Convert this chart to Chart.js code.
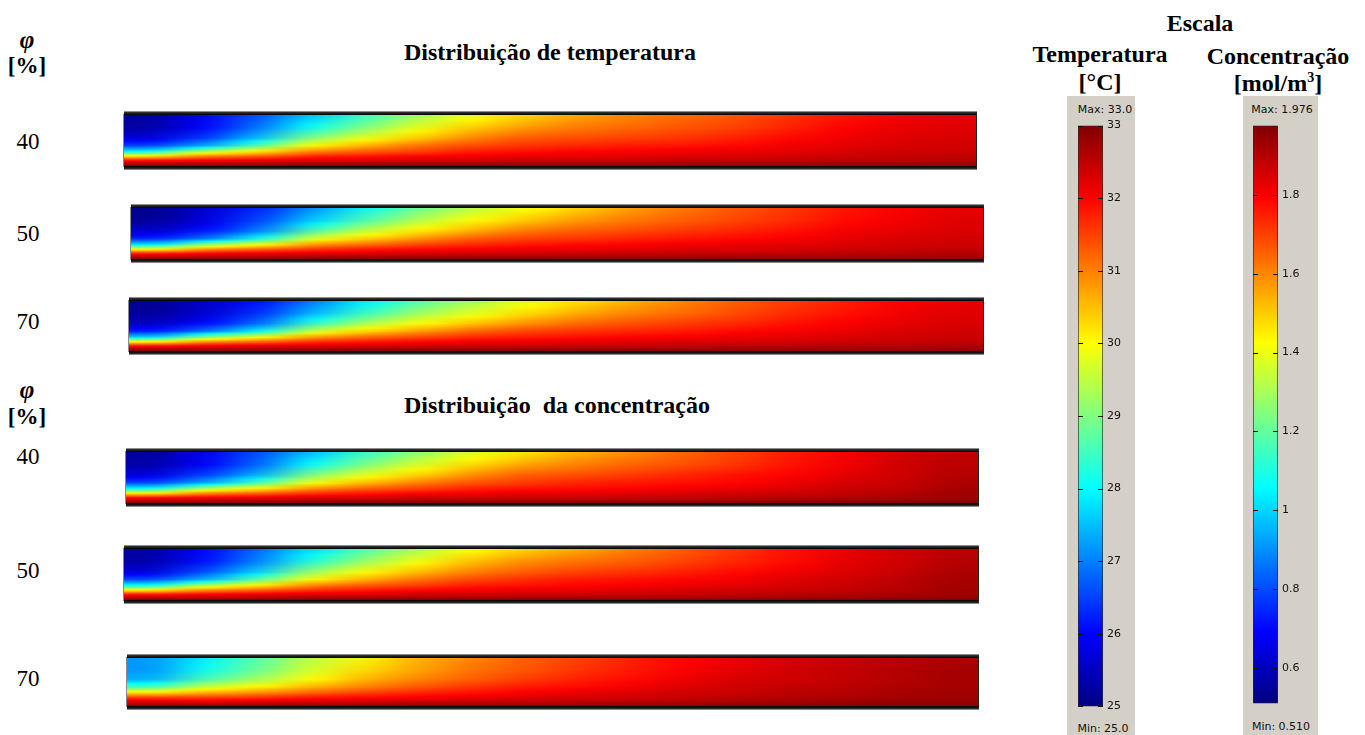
<!DOCTYPE html>
<html><head><meta charset="utf-8">
<script src="https://cdn.jsdelivr.net/npm/chart.js@4.4.1/dist/chart.umd.min.js"></script>
<style>
html,body{margin:0;padding:0;background:#fff;width:1365px;height:735px;overflow:hidden;}
body{position:relative;font-family:"Liberation Serif","Times New Roman",serif;color:#000;}
.t{position:absolute;white-space:pre;line-height:1;transform:translate(-50%,-50%);}
.b{font-weight:bold;font-size:24px;}
.n{font-size:23px;}
.phi{font-weight:bold;font-style:italic;font-size:25px;}
.pc{font-weight:bold;font-size:23px;}
.strip{position:absolute;}
.strip canvas{position:absolute;left:0;filter:url(#hb);}
.tb{position:absolute;left:0;right:-1px;height:4px;background:linear-gradient(#c0c0c0,#303030 35%,#000);}
.bb{position:absolute;left:0;right:-1px;height:4px;background:linear-gradient(#000,#202020 60%,#b8b8b8);}
.le{position:absolute;left:-1px;width:1px;background:#8a8a8a;}
.re{position:absolute;width:1px;background:#222;}
.panel{position:absolute;background:#d4d0c8;top:96px;height:639px;}
.sm{position:absolute;font-family:"DejaVu Sans",Verdana,sans-serif;font-size:11px;line-height:1;transform:translate(-50%,-50%);white-space:pre;color:#111;}
.cb{position:absolute;}
</style>
</head><body>
<svg width="0" height="0" style="position:absolute">
 <filter id="hb" x="0" y="0" width="1" height="1" color-interpolation-filters="sRGB">
  <feGaussianBlur stdDeviation="20 0"/>
  <feColorMatrix type="matrix" values="1 0 0 0 0  0 1 0 0 0  0 0 1 0 0  0 0 0 0 1"/>
 </filter>
</svg>

<div class="t phi" style="left:27px;top:39px">φ</div>
<div class="t pc" style="left:27px;top:65px">[%]</div>
<div class="t b" style="left:550px;top:52px">Distribuição de temperatura</div>
<div class="t phi" style="left:27px;top:389px">φ</div>
<div class="t pc" style="left:27px;top:416px">[%]</div>
<div class="t b" style="left:557px;top:405px">Distribuição  da concentração</div>

<div class="t b" style="left:1200px;top:23px">Escala</div>
<div class="t b" style="left:1100px;top:54px">Temperatura</div>
<div class="t b" style="left:1100px;top:82px">[°C]</div>
<div class="t b" style="left:1278px;top:56px">Concentração</div>
<div class="t b" style="left:1278px;top:83px">[mol/m<sup style="font-size:14px;vertical-align:9px;line-height:0">3</sup>]</div>

<div class="panel" style="left:1067px;width:68px"></div>
<div class="panel" style="left:1243px;width:75px"></div>
<div class="sm" style="left:1105px;top:109px">Max: 33.0</div>
<div class="sm" style="left:1103px;top:728px">Min: 25.0</div>
<div class="sm" style="left:1282px;top:109px">Max: 1.976</div>
<div class="sm" style="left:1281px;top:726px">Min: 0.510</div>
<canvas id="cbT" class="cb" width="67" height="602" style="left:1070px;top:115px"></canvas>
<canvas id="cbC" class="cb" width="67" height="599" style="left:1245px;top:115px"></canvas>

<script>
// ---------------- data ----------------
const X_POS = [0.031,0.094,0.156,0.219,0.281,0.344,0.406,0.469,0.531,0.594,0.656,0.719,0.781,0.844,0.906,0.969];
const Y_POS = [0,0.25,0.45,0.6,0.72,0.82,0.9,0.96,1];
const PHI_VALUES = ['40','50','70'];
const T_MIN = 25.0, T_MAX = 33.0;
const C_MIN = 0.510, C_MAX = 1.976;
const T_TICKS = [25,26,27,28,29,30,31,32,33];
const C_TICKS = [0.6,0.8,1.0,1.2,1.4,1.6,1.8];

const T40 = [
 [25.2,25.9,26.6,27.5,28.4,29.2,29.8,30.3,30.7,30.95,31.15,31.35,31.6,31.85,32.05,32.2],
 [25.3,26.0,26.9,28.1,29.0,29.8,30.4,30.8,31.05,31.2,31.35,31.5,31.75,32.0,32.15,32.25],
 [25.7,26.4,27.5,29.0,29.8,30.4,30.95,31.3,31.4,31.5,31.6,31.75,31.95,32.1,32.25,32.3],
 [26.5,27.3,28.6,30.0,30.6,31.1,31.4,31.6,31.7,31.8,31.85,31.95,32.1,32.2,32.3,32.35],
 [28.0,29.5,30.2,31.0,31.3,31.5,31.8,31.9,32.0,32.05,32.1,32.15,32.2,32.3,32.4,32.4],
 [30.5,31.2,31.4,31.8,31.9,32.05,32.1,32.2,32.2,32.25,32.3,32.3,32.35,32.4,32.45,32.5],
 [32.0,32.1,32.2,32.3,32.3,32.4,32.4,32.45,32.45,32.45,32.5,32.5,32.5,32.55,32.55,32.6],
 [32.6,32.6,32.6,32.7,32.7,32.7,32.7,32.7,32.7,32.7,32.7,32.7,32.7,32.7,32.7,32.7],
 [33,33,33,33,33,33,33,33,32.95,32.95,32.95,32.9,32.9,32.9,32.9,32.85]
];
const T50 = [
 [25.1,25.7,26.3,27.2,28.1,28.9,29.5,29.95,30.4,30.8,31.1,31.35,31.6,31.85,32.05,32.2],
 [25.2,25.8,26.6,27.7,28.7,29.5,30.05,30.5,30.85,31.1,31.3,31.5,31.7,31.95,32.1,32.25],
 [25.6,26.2,27.1,28.7,29.6,30.2,30.7,31.1,31.3,31.45,31.6,31.75,31.9,32.1,32.2,32.3],
 [26.3,27.0,28.2,29.8,30.4,30.9,31.3,31.5,31.6,31.75,31.85,31.95,32.05,32.2,32.3,32.35],
 [27.8,29.3,30.0,30.9,31.2,31.5,31.7,31.85,31.95,32.0,32.1,32.15,32.2,32.3,32.35,32.4],
 [30.3,31.1,31.4,31.7,31.9,32.0,32.1,32.15,32.2,32.25,32.3,32.3,32.35,32.4,32.45,32.5],
 [31.9,32.1,32.2,32.25,32.3,32.35,32.4,32.4,32.45,32.45,32.5,32.5,32.5,32.55,32.55,32.6],
 [32.6,32.6,32.6,32.65,32.7,32.7,32.7,32.7,32.7,32.7,32.7,32.7,32.7,32.7,32.7,32.7],
 [33,33,33,33,33,33,33,33,32.95,32.95,32.95,32.9,32.9,32.9,32.9,32.85]
];
const T70 = [
 [25.1,25.6,26.1,27.0,27.9,28.7,29.3,29.8,30.25,30.65,31.0,31.3,31.55,31.8,32.0,32.2],
 [25.2,25.7,26.4,27.5,28.5,29.3,29.8,30.3,30.7,31.0,31.2,31.45,31.7,31.9,32.1,32.25],
 [25.5,26.1,26.9,28.4,29.4,30.0,30.5,30.9,31.2,31.4,31.55,31.7,31.9,32.05,32.2,32.3],
 [26.2,26.9,28.0,29.6,30.3,30.8,31.2,31.45,31.6,31.7,31.8,31.95,32.05,32.15,32.3,32.35],
 [27.6,29.1,29.9,30.8,31.2,31.45,31.7,31.8,31.9,32.0,32.05,32.15,32.2,32.3,32.35,32.4],
 [30.2,31.0,31.3,31.7,31.85,32.0,32.1,32.15,32.2,32.25,32.3,32.3,32.35,32.4,32.45,32.5],
 [31.9,32.1,32.2,32.25,32.3,32.35,32.4,32.4,32.45,32.45,32.5,32.5,32.5,32.55,32.55,32.6],
 [32.6,32.6,32.6,32.65,32.7,32.7,32.7,32.7,32.7,32.7,32.7,32.7,32.7,32.7,32.7,32.7],
 [33,33,33,33,33,33,33,33,32.95,32.95,32.95,32.9,32.9,32.9,32.9,32.85]
];
const C40 = [
 [0.55,0.67,0.80,0.97,1.13,1.26,1.37,1.46,1.54,1.59,1.65,1.70,1.76,1.80,1.85,1.88],
 [0.57,0.69,0.84,1.07,1.24,1.37,1.48,1.56,1.61,1.65,1.68,1.72,1.77,1.81,1.86,1.89],
 [0.64,0.78,0.95,1.24,1.39,1.49,1.59,1.66,1.68,1.71,1.74,1.77,1.79,1.83,1.86,1.90],
 [0.79,0.93,1.15,1.41,1.52,1.61,1.67,1.71,1.74,1.76,1.77,1.79,1.82,1.85,1.87,1.91],
 [1.06,1.32,1.45,1.59,1.66,1.70,1.75,1.77,1.78,1.79,1.81,1.82,1.84,1.87,1.88,1.92],
 [1.50,1.63,1.68,1.74,1.77,1.80,1.81,1.83,1.83,1.84,1.85,1.86,1.87,1.88,1.90,1.93],
 [1.79,1.81,1.83,1.85,1.85,1.87,1.87,1.87,1.87,1.88,1.88,1.89,1.90,1.91,1.92,1.93],
 [1.90,1.90,1.90,1.92,1.92,1.92,1.92,1.92,1.92,1.92,1.92,1.92,1.93,1.93,1.94,1.95],
 [1.97,1.97,1.97,1.97,1.97,1.97,1.97,1.97,1.97,1.97,1.97,1.97,1.97,1.97,1.97,1.97]
];
const C50 = [
 [0.55,0.69,0.84,1.01,1.17,1.30,1.41,1.49,1.55,1.61,1.66,1.72,1.77,1.82,1.86,1.89],
 [0.57,0.71,0.88,1.11,1.28,1.41,1.52,1.59,1.63,1.66,1.70,1.74,1.78,1.83,1.86,1.90],
 [0.64,0.80,0.99,1.28,1.42,1.52,1.61,1.66,1.70,1.72,1.75,1.78,1.81,1.84,1.87,1.91],
 [0.80,0.95,1.19,1.43,1.54,1.63,1.69,1.73,1.76,1.77,1.79,1.81,1.84,1.86,1.89,1.92],
 [1.08,1.33,1.46,1.61,1.67,1.71,1.76,1.77,1.79,1.80,1.82,1.83,1.85,1.87,1.89,1.92],
 [1.50,1.63,1.68,1.74,1.77,1.80,1.81,1.83,1.83,1.84,1.85,1.86,1.87,1.88,1.90,1.93],
 [1.79,1.81,1.83,1.85,1.85,1.87,1.87,1.87,1.87,1.88,1.88,1.89,1.90,1.91,1.92,1.93],
 [1.90,1.90,1.90,1.92,1.92,1.92,1.92,1.92,1.92,1.92,1.92,1.92,1.93,1.93,1.94,1.95],
 [1.97,1.97,1.97,1.97,1.97,1.97,1.97,1.97,1.97,1.97,1.97,1.97,1.97,1.97,1.97,1.97]
];
const C70 = [
 [0.91,1.04,1.19,1.33,1.44,1.54,1.60,1.66,1.70,1.75,1.79,1.82,1.85,1.87,1.89,1.91],
 [0.91,1.08,1.22,1.37,1.48,1.56,1.63,1.67,1.72,1.76,1.80,1.83,1.86,1.88,1.90,1.92],
 [0.95,1.17,1.30,1.43,1.54,1.61,1.66,1.71,1.75,1.78,1.82,1.85,1.86,1.88,1.90,1.92],
 [1.15,1.35,1.44,1.54,1.61,1.67,1.72,1.76,1.78,1.81,1.84,1.86,1.88,1.89,1.91,1.92],
 [1.46,1.54,1.59,1.65,1.70,1.74,1.77,1.80,1.82,1.84,1.86,1.87,1.89,1.90,1.92,1.93],
 [1.70,1.70,1.72,1.76,1.78,1.80,1.82,1.84,1.85,1.86,1.87,1.89,1.90,1.91,1.92,1.93],
 [1.83,1.81,1.83,1.84,1.85,1.86,1.87,1.87,1.88,1.89,1.90,1.91,1.92,1.93,1.94,1.94],
 [1.90,1.90,1.90,1.91,1.91,1.92,1.92,1.92,1.92,1.93,1.93,1.94,1.94,1.95,1.95,1.95],
 [1.97,1.97,1.97,1.97,1.97,1.97,1.97,1.97,1.97,1.97,1.97,1.97,1.97,1.97,1.97,1.97]
];

// ---------------- layout ----------------
const STRIPS = [
 {grid:T40, min:T_MIN, max:T_MAX, left:124, top:115, w:852, h:51, phi:0, ly:141},
 {grid:T50, min:T_MIN, max:T_MAX, left:131, top:208, w:852, h:51, phi:1, ly:233},
 {grid:T70, min:T_MIN, max:T_MAX, left:129, top:301, w:854, h:50, phi:2, ly:321},
 {grid:C40, min:C_MIN, max:C_MAX, left:126, top:452, w:852, h:51, phi:0, ly:456},
 {grid:C50, min:C_MIN, max:C_MAX, left:124, top:549, w:854, h:51, phi:1, ly:570},
 {grid:C70, min:C_MIN, max:C_MAX, left:127, top:658, w:851, h:48, phi:2, ly:678}
];

function clamp01(v){return Math.max(0,Math.min(1,v));}
function jet(t){
  t = clamp01(t);
  const r = clamp01(1.5 - Math.abs(4*t-3));
  const g = clamp01(1.5 - Math.abs(4*t-2));
  const b = clamp01(1.5 - Math.abs(4*t-1));
  return 'rgb(' + Math.round(r*255) + ',' + Math.round(g*255) + ',' + Math.round(b*255) + ')';
}

function cellGradient(ctx, v0, v1, y0, y1, vmin, vmax){
  const chart = ctx.chart;
  const ys = chart.scales && chart.scales.y;
  if(!ys || !chart.chartArea) return jet(((v0+v1)/2 - vmin)/(vmax-vmin));
  const p0 = ys.getPixelForValue(y0), p1 = ys.getPixelForValue(y1);
  if(!isFinite(p0) || !isFinite(p1) || p0 === p1) return jet(((v0+v1)/2 - vmin)/(vmax-vmin));
  const g = chart.ctx.createLinearGradient(0, p0, 0, p1);
  const N = 10;
  for(let k=0;k<=N;k++){
    const v = v0 + (v1-v0)*k/N;
    g.addColorStop(k/N, jet((v-vmin)/(vmax-vmin)));
  }
  return g;
}

Chart.defaults.font.family = '"DejaVu Sans", sans-serif';

STRIPS.forEach(s => {
  const wrap = document.createElement('div');
  wrap.className = 'strip';
  wrap.style.left = s.left + 'px';
  wrap.style.top = (s.top - 4) + 'px';
  wrap.style.width = s.w + 'px';
  wrap.style.height = (s.h + 8) + 'px';
  wrap.innerHTML = '<div class="tb" style="top:0"></div>' +
    '<div class="bb" style="top:' + (s.h+4) + 'px"></div>' +
    '<div class="le" style="top:3px;height:' + (s.h+2) + 'px"></div>' +
    '<div class="re" style="left:' + s.w + 'px;top:2px;height:' + (s.h+4) + 'px"></div>';
  const cv = document.createElement('canvas');
  cv.width = s.w; cv.height = s.h;
  cv.style.top = '4px';
  wrap.appendChild(cv);
  document.body.appendChild(wrap);

  const lab = document.createElement('div');
  lab.className = 't n';
  lab.style.left = '28px'; lab.style.top = s.ly + 'px';
  lab.textContent = PHI_VALUES[s.phi];
  document.body.appendChild(lab);

  const datasets = [];
  for(let j=0;j<Y_POS.length-1;j++){
    const rowA = s.grid[j], rowB = s.grid[j+1];
    const y0 = Y_POS[j], y1 = Y_POS[j+1];
    datasets.push({
      data: X_POS.map(() => [y0, y1]),
      backgroundColor: ctx => cellGradient(ctx, rowA[ctx.dataIndex], rowB[ctx.dataIndex], y0, y1, s.min, s.max),
      borderWidth: 0,
      grouped: false,
      categoryPercentage: 1,
      barPercentage: 1
    });
  }
  new Chart(cv, {
    type: 'bar',
    data: { labels: X_POS.map(String), datasets },
    options: {
      responsive: false, animation: false, events: [],
      layout: { padding: 0 },
      plugins: { legend: { display: false }, tooltip: { enabled: false } },
      scales: {
        x: { display: false },
        y: { display: false, min: 0, max: 1, reverse: true }
      }
    }
  });
});

const tickMarks = {
  id: 'tickMarks',
  afterDatasetsDraw(chart){
    const ys = chart.scales.y, a = chart.chartArea, c = chart.ctx;
    c.save();
    c.strokeStyle = '#111';
    c.lineWidth = 1;
    ys.ticks.forEach(t => {
      const py = Math.round(ys.getPixelForValue(t.value)) + 0.5;
      c.beginPath();
      c.moveTo(a.left, py); c.lineTo(a.left + 5, py);
      c.moveTo(a.right - 5, py); c.lineTo(a.right, py);
      c.stroke();
    });
    c.restore();
  }
};

function colorBar(id, vmin, vmax, ticks, fmt){
  new Chart(document.getElementById(id), {
    type: 'bar',
    data: { labels: [''], datasets: [{
      data: [[vmin, vmax]],
      backgroundColor: ctx => {
        const ch = ctx.chart, ys = ch.scales && ch.scales.y;
        if(!ys || !ch.chartArea) return jet(0.5);
        const g = ch.ctx.createLinearGradient(0, ys.getPixelForValue(vmin), 0, ys.getPixelForValue(vmax));
        for(let k=0;k<=40;k++) g.addColorStop(k/40, jet(k/40));
        return g;
      },
      borderColor: '#2a2a2a', borderWidth: 1, borderSkipped: false,
      categoryPercentage: 1, barPercentage: 1
    }]},
    options: {
      responsive: false, animation: false, events: [],
      layout: { padding: { left: 8, top: 8, bottom: 8, right: 0 } },
      plugins: { legend: { display: false }, tooltip: { enabled: false } },
      scales: {
        x: { display: false },
        y: {
          position: 'right', min: vmin, max: vmax,
          grid: { display: false, drawTicks: false }, border: { display: false },
          ticks: { padding: 4, color: '#111', font: { family: '"DejaVu Sans", sans-serif', size: 11 }, callback: fmt },
          afterBuildTicks: sc => { sc.ticks = ticks.map(v => ({ value: v })); },
          afterFit: sc => { sc.width = 34; }
        }
      }
    },
    plugins: [tickMarks]
  });
}
colorBar('cbT', T_MIN, T_MAX, T_TICKS, v => String(Math.round(v)));
colorBar('cbC', C_MIN, C_MAX, C_TICKS, v => String(+(+v).toFixed(1)));
</script>
</body></html>
